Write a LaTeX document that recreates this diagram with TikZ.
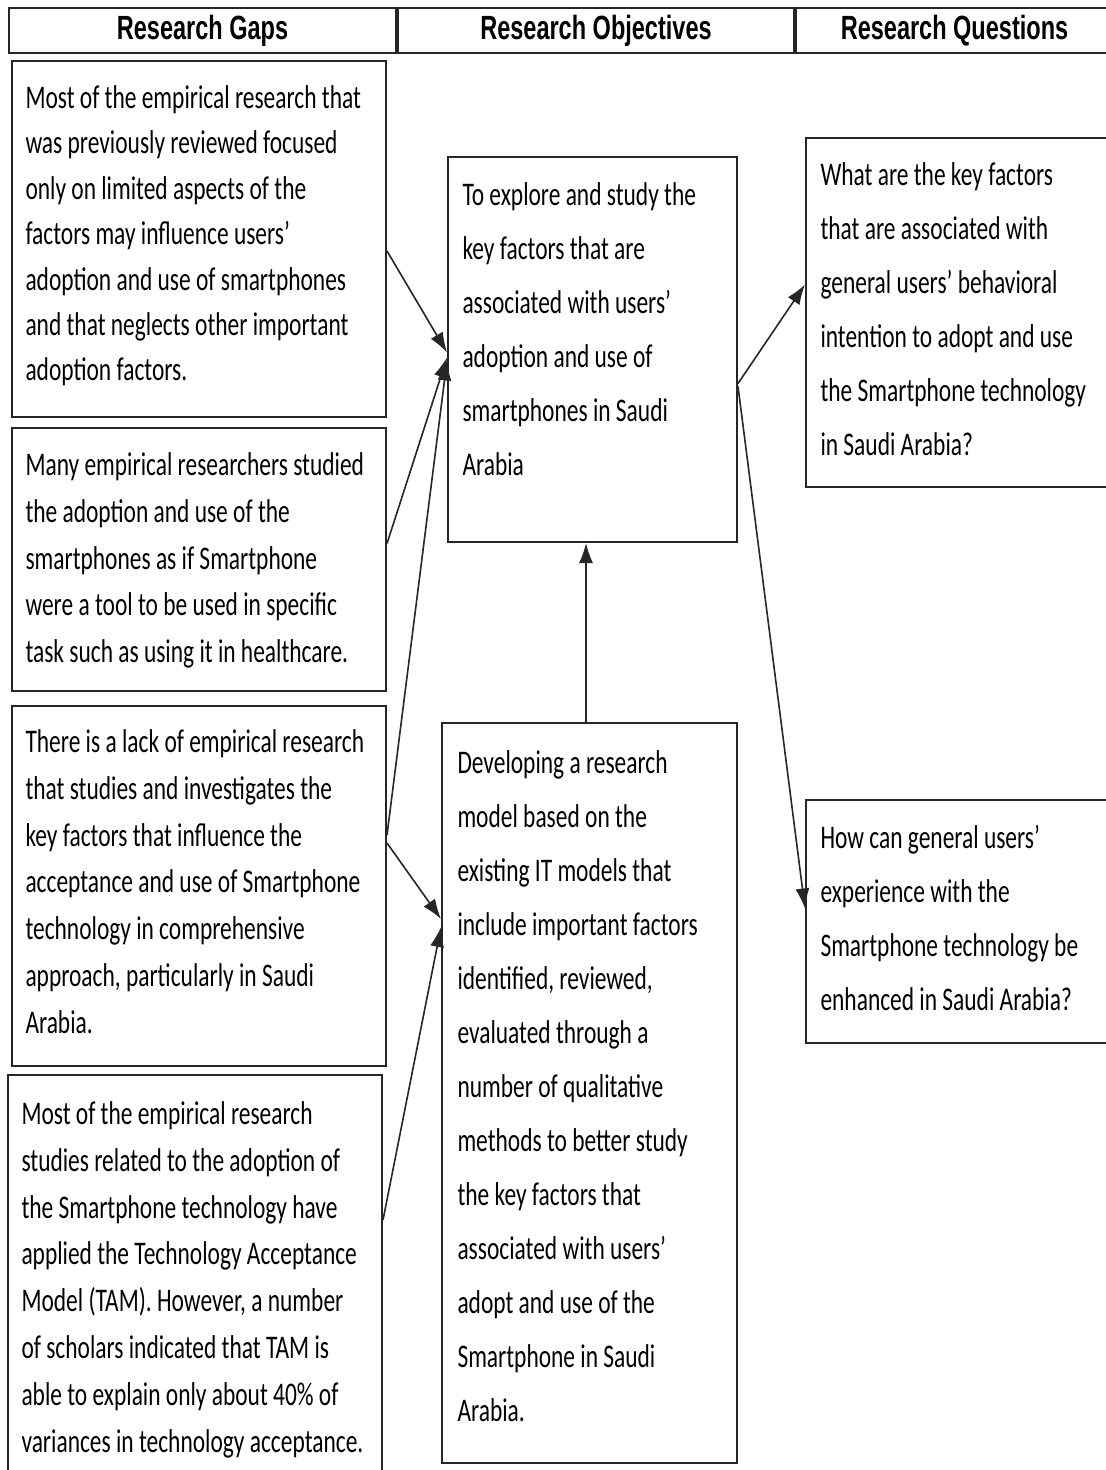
\documentclass[tikz,border=0pt]{standalone}
\usepackage{fontspec}
\usepackage{tikz}
\usetikzlibrary{positioning, arrows.meta, calc}

\newfontfamily\boxfont[FakeStretch=0.71]{Carlito}
\newfontfamily\headfont[FakeStretch=0.7]{Liberation Sans}

\begin{document}
\begin{tikzpicture}
	[->,
	 >={Latex[length=10pt,width=7pt]},
	 x=0.5pt, y=-0.5pt,
	 line width=0.5pt,
	 head/.style={draw=black!85, line width=1pt, minimum height=22.5pt, inner sep=0pt, anchor=north west, font=\headfont\bfseries\fontsize{16.8}{18}\selectfont},
	 gapbox/.style={draw=black!85, line width=1pt, minimum width=187pt, inner sep=0pt, anchor=north west},
	 cellbox/.style={draw=black!85, line width=1pt, inner sep=0pt, anchor=north west},
	 gaptext/.style={anchor=north west, inner sep=0pt, align=left, font=\boxfont\fontsize{16.5}{23.4}\selectfont},
	 cell/.style={anchor=north west, inner sep=0pt, align=left, font=\boxfont\fontsize{16.5}{27}\selectfont},
	 link/.style={line width=0.8pt, black!85}]

	\useasboundingbox (0,0) rectangle (1105,1470);

	% header row
	\node[head, minimum width=193.5pt] (h1) at (8,7) {Research Gaps};
	\node[head, minimum width=198pt] (h2) at (h1.north east) {Research Objectives};
	\node[head, minimum width=158.5pt] (h3) at (h2.north east) {Research Questions};

	% research gaps
	\node[gapbox, minimum height=178pt] (g1) at (11,60) {};
	\node[gapbox, minimum height=131.5pt, below=4.5pt of g1] (g2) {};
	\node[gapbox, minimum height=180pt, below=6.5pt of g2] (g3) {};
	\node[gapbox, minimum height=210pt] (g4) at (7,1074) {};

	\node[gaptext, font=\boxfont\fontsize{16.5}{22.7}\selectfont] (g1t) at ([shift={(14,25)}]g1.north west) {Most of the empirical research that\\ was previously reviewed focused\\ only on limited aspects of the\\ factors may influence users’\\ adoption and use of smartphones\\ and that neglects other important\\ adoption factors.};
	\node[gaptext] (g2t) at ([shift={(14,25)}]g2.north west) {Many empirical researchers studied\\ the adoption and use of the\\ smartphones as if Smartphone\\ were a tool to be used in specific\\ task such as using it in healthcare.};
	\node[gaptext] (g3t) at ([shift={(14,24)}]g3.north west) {There is a lack of empirical research\\ that studies and investigates the\\ key factors that influence the\\ acceptance and use of Smartphone\\ technology in comprehensive\\ approach, particularly in Saudi\\ Arabia.};
	\node[gaptext] (g4t) at ([shift={(14,27)}]g4.north west) {Most of the empirical research\\ studies related to the adoption of\\ the Smartphone technology have\\ applied the Technology Acceptance\\ Model (TAM). However, a number\\ of scholars indicated that TAM is\\ able to explain only about 40\% of\\ variances in technology acceptance.};

	% research objectives
	\node[cellbox, minimum width=144.5pt, minimum height=192.5pt] (o1) at (447,156) {};
	\node[cellbox, minimum width=147.5pt, minimum height=370pt] (o2) at (441,722) {};

	\node[cell] (o1t) at ([shift={(15,26)}]o1.north west) {To explore and study the\\ key factors that are\\ associated with users’\\ adoption and use of\\ smartphones in Saudi\\ Arabia};
	\node[cell] (o2t) at ([shift={(16,28)}]o2.north west) {Developing a research\\ model based on the\\ existing IT models that\\ include important factors\\ identified, reviewed,\\ evaluated through a\\ number of qualitative\\ methods to better study\\ the key factors that\\ associated with users’\\ adopt and use of the\\ Smartphone in Saudi\\ Arabia.};

	% research questions
	\node[cellbox, minimum width=160pt, minimum height=174.5pt] (q1) at (805,137) {};
	\node[cellbox, minimum width=160pt, minimum height=121.5pt, below=155.5pt of q1] (q2) {};

	\node[cell] (q1t) at ([shift={(15,25)}]q1.north west) {What are the key factors\\ that are associated with\\ general users’ behavioral\\ intention to adopt and use\\ the Smartphone technology\\ in Saudi Arabia?};
	\node[cell] (q2t) at ([shift={(15,26)}]q2.north west) {How can general users’\\ experience with the\\ Smartphone technology be\\ enhanced in Saudi Arabia?};

	\path [link]
	([yshift=-6pt]g1.east) edge ([yshift=-1.5pt]o1.west)
	([yshift=8pt]g2.east) edge ([yshift=-4pt]o1.west)
	([yshift=25.5pt]g3.east) edge ([yshift=-5.5pt]o1.west)
	([yshift=21.5pt]g3.east) edge ([yshift=87pt]o2.west)
	([yshift=-73pt]g4.north east) edge ([yshift=83pt]o2.west)
	([xshift=-1.75pt]o2.north) edge ([xshift=-3.25pt]o1.south)
	([yshift=-17pt]o1.east) edge ([yshift=14pt]q1.west)
	([yshift=-18.5pt]o1.east) edge ([yshift=6.5pt]q2.west)
	;
\end{tikzpicture}
\end{document}
